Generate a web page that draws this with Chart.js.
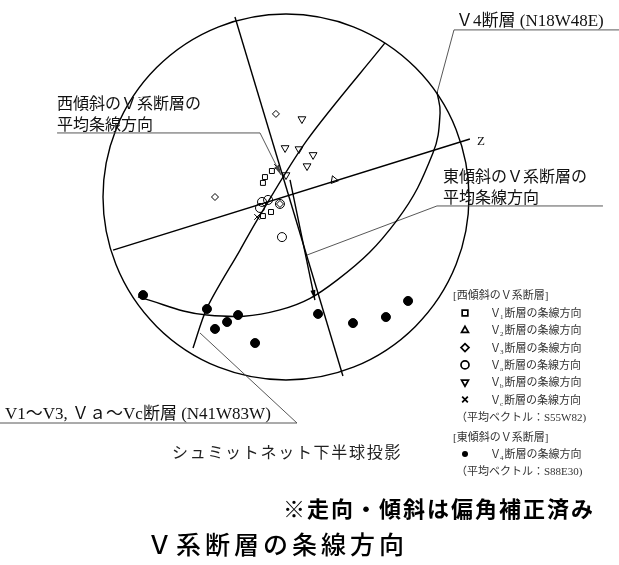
<!DOCTYPE html>
<html>
<head>
<meta charset="utf-8">
<script src="https://cdn.jsdelivr.net/npm/chart.js@4.4.1/dist/chart.umd.min.js"></script>
<style>
  body { margin: 0; background: #fff; }
  #wrap { width: 619px; height: 565px; }
</style>
</head>
<body>
<div id="wrap"><canvas id="stereo"></canvas></div>
<script>
// 座標は単位円（シュミットネット）上の値。x: 右, y: 上
// 断層面（大円）
const planeV1toVc = [
  {x: 0.541, y: 0.842}, {x: 0.115, y: 0.311}, {x: -0.158, y: -0.126},
  {x: -0.251, y: -0.290}, {x: -0.432, y: -0.607}, {x: -0.508, y: -0.825}
];
const planeV4 = [
  {x: -0.809, y: -0.546}, {x: -0.432, y: -0.645}, {x: -0.033, y: -0.617},
  {x: 0.279, y: -0.454}, {x: 0.607, y: -0.126}, {x: 0.803, y: 0.240},
  {x: 0.842, y: 0.459}, {x: 0.825, y: 0.574}
];
const meanPlane = [{x: -0.279, y: 0.984}, {x: 0.311, y: -0.978}];
const northLine = [{x: -0.945, y: -0.290}, {x: 1.005, y: 0.317}];
const eastMeanArrow = [{x: 0.022, y: 0.093}, {x: 0.158, y: -0.563}];

// 条線方向（西傾斜）
const v1Points = [
  {x: -0.077, y: 0.142}, {x: -0.115, y: 0.109}, {x: -0.126, y: 0.077},
  {x: -0.082, y: -0.082}, {x: -0.126, y: -0.104}
];
const v2Points = [];
const v3Points = [{x: -0.055, y: 0.454}, {x: -0.388, y: 0.000}, {x: -0.033, y: -0.038}];
const vaPoints = [
  {x: -0.131, y: -0.027}, {x: -0.098, y: -0.016}, {x: -0.142, y: -0.060},
  {x: -0.033, y: -0.038}, {x: -0.022, y: -0.219}
];
const vbPoints = [
  {x: 0.087, y: 0.426}, {x: -0.005, y: 0.268}, {x: 0.071, y: 0.262},
  {x: 0.148, y: 0.230}, {x: 0.115, y: 0.169}, {x: 0.262, y: 0.093},
  {x: 0.000, y: 0.120}
];
const vbRotation = [180, 180, 180, 180, 180, 100, 180];
const vcPoints = [{x: -0.049, y: 0.164}, {x: -0.158, y: -0.109}];
// 条線方向（東傾斜）
const v4Points = [
  {x: -0.781, y: -0.536}, {x: -0.432, y: -0.612}, {x: -0.262, y: -0.645},
  {x: -0.322, y: -0.683}, {x: -0.388, y: -0.721}, {x: -0.169, y: -0.798},
  {x: 0.175, y: -0.639}, {x: 0.366, y: -0.689}, {x: 0.546, y: -0.656},
  {x: 0.667, y: -0.568}
];

// 引出線
const leaderWest = [{x: -1.251, y: 0.350}, {x: -0.142, y: 0.350}, {x: -0.027, y: 0.120}];
const leaderV4 = [{x: 1.820, y: 0.913}, {x: 0.918, y: 0.913}, {x: 0.825, y: 0.568}];
const leaderEast = [{x: 1.732, y: -0.049}, {x: 0.825, y: -0.049}, {x: 0.115, y: -0.317}];
const leaderV1 = [{x: -1.563, y: -1.235}, {x: 0.060, y: -1.235}, {x: -0.470, y: -0.743}];

const SERIF = '"Liberation Serif", "Noto Sans CJK JP", serif';
const SANS = '"Noto Sans CJK JP", sans-serif';

function lineSet(data, extra) {
  return Object.assign({
    type: 'line', data: data, borderColor: '#000', borderWidth: 1.4,
    pointRadius: 0, fill: false, clip: false, tension: 0
  }, extra || {});
}
function markerSet(data, style, extra) {
  return Object.assign({
    type: 'scatter', data: data, pointStyle: style, pointRadius: 4,
    pointBorderColor: '#000', pointBackgroundColor: 'rgba(0,0,0,0)',
    pointBorderWidth: 1, clip: false
  }, extra || {});
}

// 外周円・矢印・注記を描くプラグイン
const netPlugin = {
  id: 'net',
  beforeDatasetsDraw(chart) {
    const {ctx, scales: {x, y}} = chart;
    const cx = x.getPixelForValue(0), cy = y.getPixelForValue(0);
    const r = x.getPixelForValue(1) - cx;
    ctx.save();
    ctx.strokeStyle = '#000';
    ctx.lineWidth = 1.4;
    ctx.beginPath();
    ctx.arc(cx, cy, r, 0, Math.PI * 2);
    ctx.stroke();
    ctx.restore();
  },
  afterDatasetsDraw(chart) {
    const ctx = chart.ctx;
    chart.data.datasets.forEach((ds, i) => {
      if (!ds.arrowEnd) return;
      const pts = chart.getDatasetMeta(i).data;
      const a = pts[pts.length - 2], b = pts[pts.length - 1];
      const ang = Math.atan2(b.y - a.y, b.x - a.x);
      ctx.save();
      ctx.fillStyle = ds.borderColor;
      ctx.translate(b.x, b.y);
      ctx.rotate(ang);
      ctx.beginPath();
      ctx.moveTo(0, 0);
      ctx.lineTo(-10, -2.5);
      ctx.lineTo(-10, 2.5);
      ctx.closePath();
      ctx.fill();
      ctx.restore();
    });
    drawNotes(ctx);
  }
};

function drawSub(ctx, x, y, size, pre, sub, post, color) {
  ctx.fillStyle = color;
  ctx.font = size + 'px ' + SERIF;
  ctx.fillText(pre, x, y);
  x += ctx.measureText(pre).width - 1;
  ctx.font = Math.round(size * 0.6) + 'px ' + SERIF;
  ctx.fillText(sub, x, y + 2);
  x += ctx.measureText(sub).width + 1;
  ctx.font = size + 'px ' + SERIF;
  ctx.fillText(post, x, y);
}

function drawNotes(ctx) {
  ctx.save();
  ctx.textBaseline = 'alphabetic';
  ctx.fillStyle = '#111';
  ctx.font = '16px ' + SERIF;
  ctx.fillText('西傾斜のＶ系断層の', 57, 109);
  ctx.fillText('平均条線方向', 57, 130);
  ctx.fillText('東傾斜のＶ系断層の', 443, 182);
  ctx.fillText('平均条線方向', 443, 203);
  ctx.font = '17px ' + SERIF;
  ctx.fillText('Ｖ4断層 (N18W48E)', 456, 26);
  ctx.fillText('V1～V3, Ｖａ～Vc断層 (N41W83W)', 5, 419);
  ctx.font = '13px ' + SERIF;
  ctx.fillText('Z', 477, 145);

  // 凡例
  const legendColor = '#333';
  ctx.font = '11px ' + SERIF;
  ctx.fillStyle = legendColor;
  ctx.fillText('[西傾斜のＶ系断層]', 453, 299);
  const rows = [
    ['rect', 0, '1'], ['triangle', 0, '2'], ['rectRot', 0, '3'],
    ['circle', 0, 'a'], ['triangle', 180, 'b'], ['crossRot', 0, 'c']
  ];
  rows.forEach((r, k) => {
    const yy = 313 + k * 17.3;
    ctx.save();
    ctx.strokeStyle = '#000';
    ctx.fillStyle = 'rgba(0,0,0,0)';
    ctx.lineWidth = 1.7;
    Chart.helpers.drawPoint(ctx, {pointStyle: r[0], rotation: r[1], radius: 4, borderWidth: 1.7}, 465, yy);
    ctx.restore();
    drawSub(ctx, 490, yy + 4, 11, 'Ｖ', r[2], '断層の条線方向', legendColor);
  });
  ctx.font = '11px ' + SERIF;
  ctx.fillStyle = legendColor;
  ctx.fillText('（平均ベクトル：S55W82)', 456, 421);
  ctx.fillText('[東傾斜のＶ系断層]', 453, 441);
  ctx.save();
  ctx.fillStyle = '#000';
  ctx.beginPath();
  ctx.arc(465, 454, 3, 0, Math.PI * 2);
  ctx.fill();
  ctx.restore();
  drawSub(ctx, 490, 458, 11, 'Ｖ', '4', '断層の条線方向', legendColor);
  ctx.font = '11px ' + SERIF;
  ctx.fillStyle = legendColor;
  ctx.fillText('（平均ベクトル：S88E30)', 456, 475);

  ctx.fillStyle = '#222';
  ctx.font = '16px ' + SERIF;
  ctx.letterSpacing = '1.7px';
  ctx.fillText('シュミットネット下半球投影', 172, 458);
  ctx.fillStyle = '#000';
  ctx.font = 'bold 22px ' + SANS;
  ctx.letterSpacing = '2px';
  ctx.fillText('※走向・傾斜は偏角補正済み', 283, 517);
  ctx.font = '500 25px ' + SANS;
  ctx.letterSpacing = '4px';
  ctx.fillText('Ｖ系断層の条線方向', 147, 554);
  ctx.letterSpacing = '0px';
  ctx.restore();
}

const chart = new Chart(document.getElementById('stereo'), {
  type: 'scatter',
  data: {
    datasets: [
      lineSet(meanPlane),
      lineSet(northLine),
      lineSet(planeV1toVc, {tension: 0.3}),
      lineSet(planeV4, {tension: 0.4}),
      lineSet(eastMeanArrow, {arrowEnd: true}),
      lineSet(leaderWest, {borderColor: '#444', borderWidth: 0.9, arrowEnd: true}),
      lineSet(leaderV4, {borderColor: '#444', borderWidth: 0.9}),
      lineSet(leaderEast, {borderColor: '#444', borderWidth: 0.9}),
      lineSet(leaderV1, {borderColor: '#444', borderWidth: 0.9}),
      markerSet(v1Points, 'rect', {pointRadius: 3.5}),
      markerSet(v2Points, 'triangle'),
      markerSet(v3Points, 'rectRot', {pointRadius: 3.5}),
      markerSet(vaPoints, 'circle', {pointRadius: 4.5}),
      markerSet(vbPoints, 'triangle', {pointRotation: vbRotation, pointRadius: 4.5}),
      markerSet(vcPoints, 'crossRot', {pointRadius: 4}),
      markerSet(v4Points, 'circle', {pointRadius: 4.5, pointBackgroundColor: '#000'})
    ]
  },
  options: {
    responsive: true,
    maintainAspectRatio: false,
    animation: false,
    layout: {padding: {left: 103, right: 150, top: 14, bottom: 185}},
    scales: {
      x: {type: 'linear', min: -1, max: 1, display: false},
      y: {type: 'linear', min: -1, max: 1, display: false}
    },
    plugins: {
      legend: {display: false},
      tooltip: {enabled: false}
    }
  },
  plugins: [netPlugin]
});
</script>
</body>
</html>
